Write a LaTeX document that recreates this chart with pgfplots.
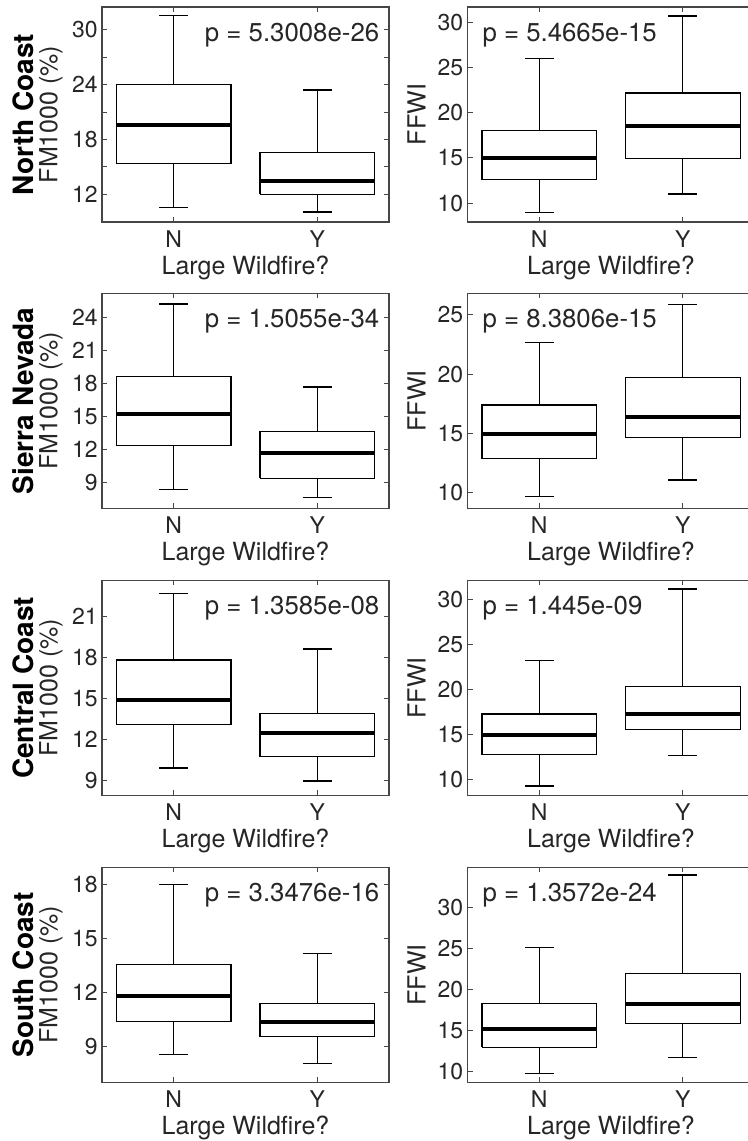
\documentclass[border=0pt]{standalone}
\usepackage{pgfplots}
\pgfplotsset{compat=1.18}
\usepackage{fontspec}
\setmainfont{TeX Gyre Heros}
\definecolor{axgray}{RGB}{70,70,70}
\definecolor{txtgray}{RGB}{38,38,38}

\pgfplotsset{
  panel/.style={
    scale only axis, width=143.5pt, height=107.5pt,
    anchor=south west, clip=false,
    xmin=0.5, xmax=2.5, xtick={1,2}, xticklabels={N,Y},
    axis line style={axgray, line width=0.6pt},
    tick style={axgray, line width=0.5pt},
    major tick length=2.5pt, minor tick length=2.5pt,
    tick align=inside,
    tick label style={font=\fontsize{11.5}{13}\selectfont, text=txtgray},
    /pgf/number format/assume math mode=true,
    xticklabel style={anchor=north, inner sep=0pt, yshift=-4.2pt},
    yticklabel style={anchor=east, inner sep=0pt, xshift=-2pt},
  },
  bx/.style={black, line width=0.65pt, solid, mark=none},
}
\tikzset{
  pright/.style={anchor=north east, inner sep=0pt, font=\fontsize{12.9}{14}\selectfont, text=txtgray},
  pleft/.style={anchor=north west, inner sep=0pt, font=\fontsize{12.9}{14}\selectfont, text=txtgray},
  region/.style={rotate=90, font=\bfseries\fontsize{14}{15}\selectfont, text=black},
  lab/.style={font=\fontsize{12.5}{14}\selectfont, text=txtgray},
}
% box for category N (x=1) and Y (x=2): lower whisker, Q1, median, Q3, upper whisker
\newcommand{\boxN}[5]{%
  \addplot[bx] coordinates {(0.6,#2) (1.4,#2) (1.4,#4) (0.6,#4) (0.6,#2)};
  \addplot[bx] coordinates {(1,#4) (1,#5)};
  \addplot[bx] coordinates {(1,#2) (1,#1)};
  \addplot[bx] coordinates {(0.9,#5) (1.1,#5)};
  \addplot[bx] coordinates {(0.9,#1) (1.1,#1)};
  \addplot[bx, line width=2pt] coordinates {(0.6,#3) (1.4,#3)};
}
\newcommand{\boxY}[5]{%
  \addplot[bx] coordinates {(1.6,#2) (2.4,#2) (2.4,#4) (1.6,#4) (1.6,#2)};
  \addplot[bx] coordinates {(2,#4) (2,#5)};
  \addplot[bx] coordinates {(2,#2) (2,#1)};
  \addplot[bx] coordinates {(1.9,#5) (2.1,#5)};
  \addplot[bx] coordinates {(1.9,#1) (2.1,#1)};
  \addplot[bx, line width=2pt] coordinates {(1.6,#3) (2.4,#3)};
}
\newcommand{\labels}[1]{%
  \node[lab, anchor=base] at ([yshift=-26.3pt]rel axis cs:0.5,0) {Large Wildfire?};
  \node[lab, rotate=90] at ([xshift=-25.5pt]rel axis cs:0,0.5) {#1};
}

\begin{document}
\begin{tikzpicture}
\path[use as bounding box] (0pt,0pt) rectangle (374pt,570.5pt);

% row 1: North Coast
\begin{axis}[panel, at={(51pt,459.5pt)}, ymin=8.96, ymax=32.5,
  ytick={12,18,24,30}, minor ytick={15,21,27}]
\boxN{10.57}{15.33}{19.53}{24.0}{31.57}
\boxY{10.06}{12.0}{13.46}{16.57}{23.42}
\node[pright] at ([xshift=-4.7pt,yshift=-8pt]rel axis cs:1,1) {p = 5.3008e-26};
\node[region] at ([xshift=-39.5pt]rel axis cs:0,0.5) {North Coast};
\labels{FM1000 (\%)}
\end{axis}
\begin{axis}[panel, at={(233.75pt,459.5pt)}, ymin=7.9, ymax=31.7,
  ytick={10,15,20,25,30}]
\boxN{8.97}{12.57}{15.03}{18.0}{26.0}
\boxY{11.0}{14.92}{18.48}{22.18}{30.7}
\node[pleft] at ([xshift=7.3pt,yshift=-8pt]rel axis cs:0,1) {p = 5.4665e-15};
\labels{FFWI}
\end{axis}

% row 2: Sierra Nevada
\begin{axis}[panel, at={(51pt,316.35pt)}, ymin=6.63, ymax=26.22,
  ytick={9,12,15,18,21,24}]
\boxN{8.36}{12.36}{15.25}{18.67}{25.25}
\boxY{7.63}{9.36}{11.64}{13.63}{17.69}
\node[pright] at ([xshift=-4.7pt,yshift=-8pt]rel axis cs:1,1) {p = 1.5055e-34};
\node[region] at ([xshift=-39.5pt]rel axis cs:0,0.5) {Sierra Nevada};
\labels{FM1000 (\%)}
\end{axis}
\begin{axis}[panel, at={(233.75pt,316.35pt)}, ymin=8.70, ymax=26.83,
  ytick={10,15,20,25}]
\boxN{9.71}{12.87}{14.94}{17.42}{22.70}
\boxY{11.09}{14.66}{16.41}{19.75}{25.87}
\node[pleft] at ([xshift=7.3pt,yshift=-8pt]rel axis cs:0,1) {p = 8.3806e-15};
\labels{FFWI}
\end{axis}

% row 3: Central Coast
\begin{axis}[panel, at={(51pt,172.85pt)}, ymin=7.93, ymax=23.63,
  ytick={9,12,15,18,21}]
\boxN{9.93}{13.1}{14.88}{17.8}{22.68}
\boxY{8.98}{10.76}{12.49}{13.92}{18.61}
\node[pright] at ([xshift=-4.7pt,yshift=-8pt]rel axis cs:1,1) {p = 1.3585e-08};
\node[region] at ([xshift=-39.5pt]rel axis cs:0,0.5) {Central Coast};
\labels{FM1000 (\%)}
\end{axis}
\begin{axis}[panel, at={(233.75pt,172.85pt)}, ymin=8.3, ymax=32.14,
  ytick={10,15,20,25,30}]
\boxN{9.33}{12.81}{14.96}{17.33}{23.22}
\boxY{12.7}{15.56}{17.33}{20.4}{31.19}
\node[pleft] at ([xshift=7.3pt,yshift=-8pt]rel axis cs:0,1) {p = 1.445e-09};
\labels{FFWI}
\end{axis}

% row 4: South Coast
\begin{axis}[panel, at={(51pt,29.35pt)}, ymin=7.02, ymax=18.97,
  ytick={9,12,15,18}]
\boxN{8.58}{10.41}{11.82}{13.56}{18.0}
\boxY{8.06}{9.56}{10.39}{11.41}{14.19}
\node[pright] at ([xshift=-4.7pt,yshift=-8pt]rel axis cs:1,1) {p = 3.3476e-16};
\node[region] at ([xshift=-39.5pt]rel axis cs:0,0.5) {South Coast};
\labels{FM1000 (\%)}
\end{axis}
\begin{axis}[panel, at={(233.75pt,29.35pt)}, ymin=8.71, ymax=34.87,
  ytick={10,15,20,25,30}]
\boxN{9.76}{12.97}{15.16}{18.27}{25.08}
\boxY{11.70}{15.84}{18.2}{21.92}{33.93}
\node[pleft] at ([xshift=7.3pt,yshift=-8pt]rel axis cs:0,1) {p = 1.3572e-24};
\labels{FFWI}
\end{axis}
\end{tikzpicture}
\end{document}
